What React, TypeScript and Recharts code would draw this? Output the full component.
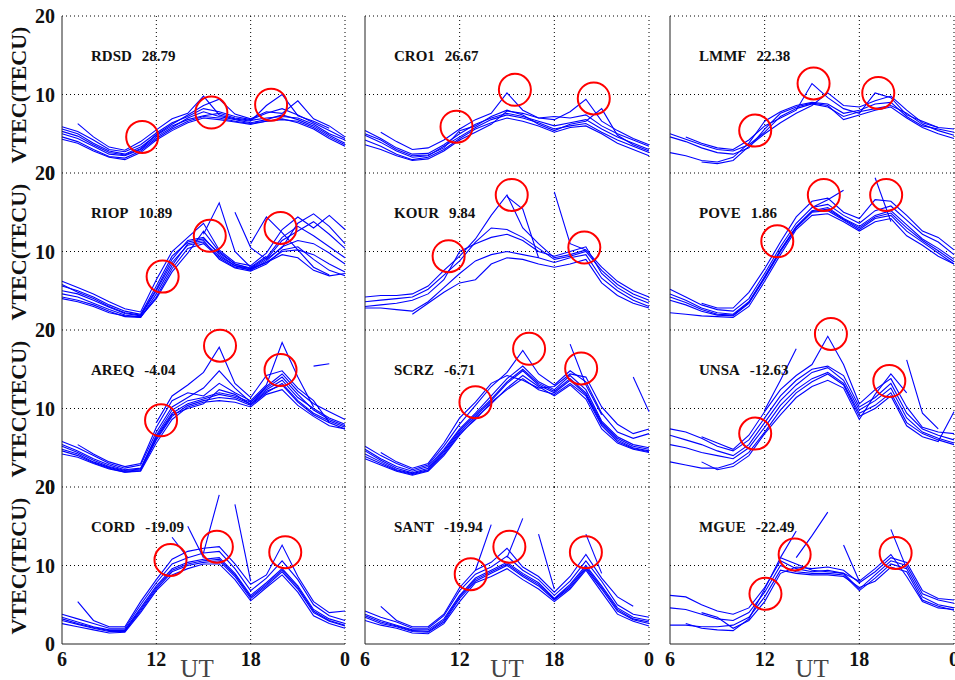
import { ComposedChart, Line, ReferenceLine, Scatter, XAxis, YAxis } from "recharts";

const _ = null;

// UT sample hours, 06 → 24 (24 shown as "0")
const UT_HOURS = [6, 7, 8, 9, 10, 11, 12, 13, 14, 15, 16, 17, 18, 19, 20, 21, 22, 23, 24];
const X_TICKS = [6, 12, 18, 24];
const Y_TICKS = [0, 10, 20];
const X_GRID = [12, 18, 24];
const Y_GRID = [10, 20];

const STATIONS = ["RDSD", "CRO1", "LMMF", "RIOP", "KOUR", "POVE", "AREQ", "SCRZ", "UNSA", "CORD", "SANT", "MGUE"];
const LATITUDES = ["28.79", "26.67", "22.38", "10.89", "9.84", "1.86", "-4.04", "-6.71", "-12.63", "-19.09", "-19.94", "-22.49"];

// one row per day, hourly VTEC (TECU)
const RDSD_TEC = [
  [5.6, 5.0, 3.8, 2.8, 2.4, 3.3, 4.8, 6.0, 6.8, 7.3, 7.6, 7.0, 6.7, 7.0, 7.2, 7.0, 6.2, 5.0, 4.2],
  [5.0, 4.4, 3.4, 2.4, 2.2, 3.0, 4.6, 5.8, 7.0, 7.8, 7.2, 6.8, 6.4, 6.8, 7.4, 6.8, 6.0, 4.8, 3.8],
  [4.6, 4.0, 3.0, 2.1, 1.9, 2.8, 4.4, 5.6, 6.6, 7.2, 7.0, 6.6, 6.3, 6.6, 6.8, 6.6, 5.8, 4.6, 3.6],
  [5.9, 5.3, 4.2, 3.0, 2.7, 3.6, 5.1, 6.4, 7.2, 8.2, 7.8, 7.2, 6.8, 7.6, 8.2, 7.4, 6.4, 5.4, 4.4],
  [4.3, 3.8, 2.8, 2.0, 1.7, 2.6, 4.2, 5.4, 6.4, 7.0, 6.8, 6.5, 6.2, 6.6, 6.9, 6.4, 5.6, 4.4, 3.4],
  [_, 6.3, 4.6, 3.3, 2.9, 4.0, 5.5, 6.9, 7.6, 9.8, 7.4, 6.9, 6.6, 8.6, 10.0, 7.3, 6.6, 5.7, _],
  [5.3, 4.7, 3.6, 2.6, 2.3, 3.1, 4.9, 6.2, 7.4, 8.6, 9.4, 7.5, 6.9, 7.8, 7.6, 9.2, 6.9, 6.0, 4.6],
];
const CRO1_TEC = [
  [5.4, 4.4, 3.2, 2.4, 2.5, 3.6, 5.0, 6.2, 7.0, 7.6, 7.2, 6.6, 6.0, 6.4, 6.8, 5.6, 4.6, 3.8, 3.0],
  [4.8, 3.9, 2.8, 2.0, 2.2, 3.4, 4.6, 5.8, 6.8, 7.4, 7.0, 6.4, 5.6, 6.0, 6.3, 5.2, 4.2, 3.4, 2.6],
  [4.2, 3.4, 2.4, 1.7, 2.0, 3.0, 4.4, 5.6, 6.4, 7.0, 6.6, 6.0, 5.2, 5.8, 6.0, 5.0, 3.8, 3.0, 2.2],
  [3.6, 3.0, 2.2, 1.6, 1.8, 2.8, 4.2, 5.2, 6.2, 7.9, 7.6, 7.0, 7.2, 7.0, 7.4, 6.0, 5.0, 4.2, 3.4],
  [_, 5.2, 4.0, 3.0, 3.2, 4.2, 5.6, 6.8, 7.6, 10.2, 8.0, 7.0, 6.8, 7.8, 9.4, 6.6, 5.4, 4.4, 3.6],
  [5.0, 4.2, 3.0, 2.2, 2.3, 3.2, 5.4, 6.0, 7.2, 8.0, 7.4, 6.2, 5.4, 6.2, 6.6, 8.2, 4.8, 3.6, 2.8],
];
const LMMF_TEC = [
  [5.0, 4.3, 3.6, 3.0, 2.8, 3.6, 5.2, 7.2, 8.2, 8.8, 8.4, 7.2, 7.8, 8.2, 8.6, 7.6, 6.2, 5.4, 4.8],
  [4.6, 4.0, 3.2, 2.6, 2.4, 3.2, 5.6, 7.6, 8.4, 8.9, 8.6, 6.8, 7.4, 8.0, 8.4, 7.0, 5.8, 5.0, 4.4],
  [2.6, 2.2, 1.6, 1.4, 2.0, 3.8, 6.6, 7.8, 8.6, 9.0, 8.8, 7.6, 8.0, 8.8, 9.0, 7.2, 6.0, 5.6, 5.2],
  [_, 4.6, 3.8, 3.2, 3.0, 4.2, 6.0, 7.0, 8.0, 11.4, 9.6, 8.2, 7.6, 10.2, 9.6, 7.4, 6.6, 5.8, 5.6],
  [_, _, 1.4, 1.2, 1.6, 3.4, 5.0, 6.4, 7.6, 8.6, 10.2, 8.6, 8.4, 9.2, 9.8, 8.0, 6.4, 5.8, _],
];
const RIOP_TEC = [
  [5.6, 5.0, 4.2, 3.2, 2.4, 2.0, 5.6, 9.4, 11.2, 11.6, 9.8, 8.4, 7.8, 9.0, 11.4, 12.6, 13.8, 12.2, 10.4],
  [5.0, 4.6, 3.8, 2.9, 2.1, 1.8, 5.0, 8.6, 10.8, 11.2, 9.4, 8.2, 7.6, 8.8, 10.6, 11.4, 11.0, 9.8, 8.4],
  [4.6, 4.2, 3.4, 2.6, 1.9, 1.6, 4.6, 8.2, 11.0, 11.4, 9.0, 7.9, 7.5, 8.4, 10.2, 10.6, 9.0, 7.6, 6.9],
  [6.2, 5.4, 4.6, 3.6, 2.7, 2.3, 6.4, 10.0, 11.8, 13.6, 10.2, 8.6, 8.2, 9.8, 12.8, 14.4, 13.0, 14.6, 12.8],
  [4.2, 3.8, 3.2, 2.4, 1.7, 1.6, 4.2, 7.8, 10.4, 11.0, 9.2, 8.0, 7.7, 8.6, 9.6, 9.2, 7.6, 6.9, 7.2],
  [5.8, 4.8, 4.0, 3.0, 2.2, 1.9, 5.2, 9.0, 11.4, 11.8, 9.6, 8.2, 7.8, 8.6, 10.0, 10.2, 9.6, 8.4, 7.4],
  [4.0, 3.6, 3.0, 2.2, 1.8, 1.7, 4.0, 7.4, 9.8, 12.6, 10.0, 8.4, 7.9, 9.2, 11.8, 13.2, 12.0, 10.6, 9.2],
  [_, _, _, _, _, _, _, _, _, 12.2, 16.2, 10.0, 8.0, 9.4, _, _, _, _, _],
  [_, _, _, _, _, _, _, _, _, _, _, 15.0, 10.5, 9.0, 10.5, 13.6, 14.8, 13.2, 11.0],
  [_, _, _, _, _, _, _, _, _, _, _, _, 11.0, 14.4, 12.4, 10.2, 8.0, 7.0, _],
];
const KOUR_TEC = [
  [4.2, 4.4, 4.4, 4.6, 5.6, 7.6, 9.4, 11.6, 14.6, 17.2, 13.0, 11.0, 9.2, 9.6, 10.2, 8.0, 6.2, 5.0, 4.2],
  [3.6, 3.8, 4.0, 4.2, 5.2, 7.0, 8.8, 11.2, 13.0, 12.8, 11.8, 10.4, 9.0, 9.4, 10.0, 7.6, 5.8, 4.6, 3.8],
  [3.0, 3.2, 3.4, 3.8, 4.6, 6.4, 10.0, 11.0, 11.8, 12.2, 11.4, 10.0, 9.4, 10.0, 10.6, 7.2, 5.4, 4.2, 3.4],
  [2.8, 2.8, 2.6, 2.4, 3.6, 5.4, 7.2, 8.8, 9.6, 10.0, 9.6, 9.2, 8.6, 9.2, 9.6, 6.6, 5.0, 3.8, 3.0],
  [_, _, _, 2.0, 3.4, 4.8, 6.0, 6.4, 8.4, 9.2, 9.0, 8.4, 8.0, 8.4, 9.0, 6.0, 4.4, 3.4, 2.8],
  [_, _, _, _, _, _, _, _, _, 17.0, 15.4, 9.2, _, _, _, _, _, _, _],
  [_, _, _, _, _, _, _, _, _, _, _, _, 17.6, 11.0, 10.2, _, _, _, _],
];
const POVE_TEC = [
  [5.2, 4.2, 3.2, 2.6, 2.4, 4.0, 7.2, 10.6, 13.6, 15.6, 16.0, 14.6, 13.6, 15.2, 15.8, 14.0, 12.2, 11.2, 9.6],
  [4.6, 3.8, 2.8, 2.2, 2.0, 3.6, 6.8, 10.2, 13.2, 15.2, 15.6, 14.2, 13.2, 14.6, 15.2, 13.4, 11.6, 10.4, 9.0],
  [3.8, 3.2, 2.4, 1.9, 1.8, 3.4, 6.6, 10.0, 13.0, 15.0, 15.2, 14.0, 12.8, 14.2, 14.6, 12.6, 11.2, 9.8, 8.4],
  [_, _, 3.4, 2.8, 2.8, 4.8, 7.8, 11.2, 14.4, 16.4, 16.8, 15.0, 14.2, 16.6, 16.4, 14.6, 12.6, 11.8, 10.2],
  [2.2, 2.0, 1.8, 1.7, 1.6, 3.0, 6.2, 9.6, 12.8, 14.6, 14.8, 13.8, 12.6, 13.8, 14.2, 12.0, 10.8, 9.4, 8.4],
  [4.2, 3.5, 2.6, 2.0, 1.9, 3.5, 6.7, 10.1, 13.1, 15.1, 15.4, 14.1, 13.0, 14.4, 14.9, 13.0, 11.4, 10.1, 8.7],
  [_, _, _, _, _, _, _, _, _, 15.6, 16.6, 17.8, _, _, _, _, _, _, _],
  [_, _, _, _, _, _, _, _, _, _, _, _, _, 19.4, 13.8, _, _, _, _],
];
const AREQ_TEC = [
  [5.4, 4.6, 3.6, 2.8, 2.2, 2.4, 6.4, 9.4, 10.6, 11.2, 11.8, 11.4, 10.6, 12.4, 13.6, 11.4, 10.0, 8.8, 8.0],
  [4.8, 4.2, 3.2, 2.5, 2.0, 2.2, 6.0, 9.0, 10.4, 11.0, 11.4, 11.2, 10.4, 12.0, 13.2, 11.0, 9.4, 8.4, 7.6],
  [5.8, 5.0, 4.0, 3.0, 2.4, 2.8, 7.0, 10.2, 11.4, 12.6, 14.8, 12.6, 10.8, 12.8, 14.4, 12.2, 10.6, 9.6, 8.6],
  [4.2, 3.8, 3.0, 2.3, 1.9, 2.0, 5.6, 8.6, 10.2, 10.8, 11.0, 10.8, 10.2, 11.8, 12.4, 10.4, 9.0, 7.8, 7.4],
  [5.2, 4.4, 3.4, 2.6, 2.1, 2.3, 6.6, 9.8, 11.0, 11.4, 12.0, 11.6, 10.8, 12.6, 14.0, 11.8, 9.8, 8.6, 7.8],
  [4.6, 4.0, 3.1, 2.4, 1.9, 2.1, 6.2, 9.2, 10.0, 10.6, 12.4, 11.8, 10.5, 12.2, 13.0, 10.8, 9.2, 8.2, 7.4],
  [_, _, _, _, _, _, 8.2, 11.6, 13.0, 14.6, 17.8, 13.2, 11.4, 14.2, 14.8, 12.6, 11.0, 8.2, _],
  [_, 5.4, 4.2, 3.2, 2.6, 3.0, 7.6, 11.0, 12.0, 11.6, 13.2, 12.0, 11.0, 13.0, 18.4, 14.0, 10.2, _, _],
  [_, _, _, _, _, _, _, _, _, _, _, _, _, _, _, _, 15.4, 15.7, _],
];
const SCRZ_TEC = [
  [4.8, 3.6, 2.6, 2.0, 2.6, 4.8, 7.4, 9.4, 11.6, 13.8, 15.4, 13.4, 12.4, 14.2, 12.4, 8.4, 6.4, 5.4, 5.0],
  [4.2, 3.2, 2.2, 1.7, 2.2, 4.4, 7.0, 9.0, 11.0, 13.2, 14.8, 13.0, 12.0, 13.6, 11.8, 8.0, 6.0, 5.0, 4.6],
  [3.6, 2.8, 2.0, 1.5, 2.0, 4.0, 6.6, 8.8, 10.6, 12.6, 14.2, 12.8, 11.6, 13.0, 11.2, 7.4, 5.6, 4.8, 4.4],
  [5.2, 4.0, 3.0, 2.2, 2.8, 5.2, 8.0, 10.4, 12.8, 14.6, 17.4, 14.4, 13.0, 14.8, 13.4, 9.4, 7.0, 6.2, 6.8],
  [4.6, 3.4, 2.4, 1.8, 2.4, 4.6, 7.2, 9.2, 11.2, 13.4, 15.0, 13.2, 12.2, 13.8, 12.0, 8.2, 6.2, 5.2, 4.8],
  [3.9, 3.0, 2.1, 1.6, 2.1, 4.2, 6.8, 8.6, 10.8, 12.4, 13.8, 12.4, 11.8, 13.2, 11.6, 7.8, 5.8, 4.9, 4.5],
  [_, 4.4, 3.2, 2.4, 3.0, 5.6, 8.8, 10.8, 13.2, 14.2, 13.6, 12.6, 12.8, 14.4, 14.0, 10.2, 8.0, 6.8, 7.4],
  [_, _, _, _, _, _, _, _, _, _, _, _, _, 18.2, 13.0, 9.2, _, _, _],
  [_, _, _, _, _, _, _, _, _, _, _, _, _, _, _, _, _, 14.0, 9.6],
];
const UNSA_TEC = [
  [7.4, 7.0, 6.2, 5.2, 4.6, 6.0, 8.8, 11.6, 13.6, 15.0, 15.4, 14.2, 10.2, 11.4, 13.2, 9.4, 7.4, 6.6, 6.0],
  [6.6, 6.0, 5.4, 4.6, 4.0, 5.4, 8.2, 11.0, 13.0, 14.6, 15.2, 13.6, 9.8, 11.0, 12.6, 8.8, 7.0, 6.2, 5.6],
  [5.4, 5.0, 4.4, 4.0, 3.6, 5.0, 7.6, 10.4, 12.4, 13.8, 14.6, 13.2, 9.4, 10.4, 12.0, 8.2, 6.8, 6.0, 5.4],
  [3.2, 2.8, 2.4, 2.4, 3.0, 4.4, 7.0, 9.8, 12.0, 13.4, 14.4, 13.0, 9.0, 10.0, 11.6, 7.8, 6.4, 5.8, 9.6],
  [_, _, 6.4, 5.6, 4.8, 6.6, 9.6, 12.4, 14.2, 15.6, 19.2, 15.6, 10.6, 12.4, 13.8, 10.2, 7.6, 7.0, 6.8],
  [_, _, 3.2, 2.2, 2.6, 4.0, 6.8, 9.2, 11.4, 12.8, 13.6, 12.6, 8.6, 11.8, 14.4, 12.0, _, _, _],
  [_, _, _, _, _, _, 9.8, 13.6, 17.6, _, _, _, _, _, _, _, _, _, _],
  [_, _, _, _, _, _, _, _, _, _, _, _, _, _, _, 16.2, 9.4, 7.4, _],
];
const CORD_TEC = [
  [3.4, 2.8, 2.2, 1.8, 1.8, 4.6, 7.4, 9.6, 10.4, 10.8, 11.0, 9.0, 6.2, 7.8, 9.6, 7.4, 4.4, 3.2, 2.6],
  [3.0, 2.5, 2.0, 1.6, 1.6, 4.2, 7.0, 9.2, 10.0, 10.4, 10.6, 8.6, 5.8, 7.4, 9.2, 7.0, 4.0, 2.9, 2.3],
  [2.6, 2.2, 1.8, 1.4, 1.5, 4.0, 6.8, 8.8, 9.6, 10.2, 10.2, 8.2, 5.5, 7.2, 8.8, 6.6, 3.6, 2.6, 2.0],
  [3.8, 3.2, 2.6, 2.0, 2.0, 5.0, 7.8, 10.2, 11.0, 11.6, 11.8, 9.6, 6.8, 8.4, 10.6, 8.2, 5.0, 3.6, 3.0],
  [3.2, 2.6, 2.1, 1.7, 1.7, 4.4, 7.2, 9.4, 10.2, 10.6, 10.8, 8.8, 6.0, 7.6, 9.4, 7.2, 4.2, 3.0, 2.4],
  [_, 5.4, 3.0, 2.2, 2.2, 5.4, 8.2, 10.8, 11.8, 12.2, 12.4, 10.2, 7.6, 8.8, 12.6, 8.6, 5.4, 4.0, 4.2],
  [_, _, _, _, _, _, _, 13.6, 11.0, _, _, _, _, _, _, _, _, _, _],
  [_, _, _, _, _, _, _, _, _, 11.6, 19.0, _, _, _, _, _, _, _, _],
  [_, _, _, _, _, _, _, _, _, _, _, 17.8, 8.0, _, _, _, _, _, _],
  [_, _, _, _, _, _, _, _, 15.0, 11.0, _, _, _, _, _, _, _, _, _],
];
const SANT_TEC = [
  [3.8, 3.0, 2.4, 1.8, 1.8, 3.2, 6.2, 8.4, 9.4, 10.4, 9.0, 7.8, 5.8, 7.6, 10.0, 7.4, 4.6, 3.4, 3.0],
  [3.4, 2.6, 2.2, 1.6, 1.5, 2.8, 5.8, 8.0, 9.0, 10.0, 8.6, 7.4, 5.6, 7.2, 9.6, 7.0, 4.2, 3.1, 2.6],
  [3.0, 2.4, 2.0, 1.4, 1.3, 2.6, 5.4, 7.8, 8.6, 9.6, 8.2, 7.0, 5.4, 7.0, 9.4, 6.6, 3.8, 2.9, 2.3],
  [4.2, 3.4, 2.8, 2.0, 2.0, 3.6, 6.8, 8.9, 9.8, 11.2, 9.4, 8.2, 6.2, 8.0, 10.6, 8.0, 5.0, 3.8, 3.4],
  [3.6, 2.8, 2.3, 1.7, 1.6, 3.0, 6.0, 8.2, 9.2, 10.2, 8.8, 7.6, 5.7, 7.4, 9.8, 7.2, 4.4, 3.2, 2.8],
  [_, 4.8, 3.0, 2.2, 2.2, 3.8, 7.2, 9.4, 10.4, 12.2, 9.8, 8.6, 6.6, 8.6, 11.4, 8.4, 6.0, 4.8, _],
  [_, _, _, _, _, _, _, 9.4, 15.2, _, _, _, _, _, _, _, _, _, _],
  [_, _, _, _, _, _, _, _, _, 11.0, 16.0, _, _, _, _, _, _, _, _],
  [_, _, _, _, _, _, _, _, _, _, _, 14.0, 7.0, _, _, _, _, _, _],
  [_, _, _, _, _, _, _, _, _, _, _, _, _, _, 14.0, 9.0, _, _, _],
];
const MGUE_TEC = [
  [6.2, 6.0, 5.0, 4.2, 3.8, 4.6, 7.2, 10.6, 9.6, 9.2, 9.4, 9.0, 7.0, 8.8, 10.6, 10.0, 6.4, 5.6, 5.2],
  [4.6, 4.4, 3.8, 3.2, 3.0, 4.0, 6.6, 10.0, 9.2, 9.0, 9.0, 8.8, 6.8, 8.4, 10.2, 9.6, 6.0, 5.0, 4.6],
  [2.4, 2.4, 2.2, 2.2, 2.4, 3.4, 6.0, 9.4, 9.0, 8.8, 8.8, 8.6, 7.2, 8.0, 9.8, 9.2, 5.6, 4.8, 4.3],
  [_, _, 4.0, 3.4, 2.0, 3.0, 5.4, 9.0, 9.8, 9.6, 9.8, 9.4, 7.8, 9.2, 11.0, 10.4, 6.8, 5.8, 5.6],
  [_, 2.6, 2.0, 1.8, 1.7, 3.2, 7.0, 11.0, 10.2, 9.4, 9.2, 9.0, 8.0, 9.6, 11.4, 8.6, 5.4, 4.6, 4.4],
  [_, _, _, _, _, _, _, _, 11.0, 13.8, 16.8, _, _, _, _, _, _, _, _],
  [_, _, _, _, _, _, _, 11.0, 14.4, _, _, _, _, _, _, _, _, _, _],
  [_, _, _, _, _, _, _, _, _, _, _, 12.6, 8.0, _, _, _, _, _, _],
  [_, _, _, _, _, _, _, _, _, _, _, _, _, _, 14.6, 9.6, _, _, _],
];

// circled peaks: [UT, VTEC]
const RDSD_PEAKS = [[11.1, 4.6], [15.5, 7.7], [19.3, 8.7]];
const CRO1_PEAKS = [[11.8, 5.9], [15.5, 10.6], [20.5, 9.5]];
const LMMF_PEAKS = [[11.4, 5.4], [15.1, 11.4], [19.2, 10.2]];
const RIOP_PEAKS = [[12.4, 6.8], [15.4, 12.0], [19.9, 13.0]];
const KOUR_PEAKS = [[11.3, 9.4], [15.3, 17.2], [19.9, 10.5]];
const POVE_PEAKS = [[12.8, 11.3], [15.75, 17.2], [19.7, 17.2]];
const AREQ_PEAKS = [[12.3, 8.5], [16.05, 18.0], [19.9, 14.9]];
const SCRZ_PEAKS = [[13.0, 10.8], [16.4, 17.6], [19.7, 15.1]];
const UNSA_PEAKS = [[11.4, 6.8], [16.2, 19.5], [19.9, 13.5]];
const CORD_PEAKS = [[12.9, 10.7], [15.85, 12.4], [20.2, 11.7]];
const SANT_PEAKS = [[12.7, 8.9], [15.15, 12.4], [20.0, 11.7]];
const MGUE_PEAKS = [[12.05, 6.4], [13.9, 11.4], [20.3, 11.6]];

const TEC_SETS = [RDSD_TEC, CRO1_TEC, LMMF_TEC, RIOP_TEC, KOUR_TEC, POVE_TEC, AREQ_TEC, SCRZ_TEC, UNSA_TEC, CORD_TEC, SANT_TEC, MGUE_TEC];
const PEAK_SETS = [RDSD_PEAKS, CRO1_PEAKS, LMMF_PEAKS, RIOP_PEAKS, KOUR_PEAKS, POVE_PEAKS, AREQ_PEAKS, SCRZ_PEAKS, UNSA_PEAKS, CORD_PEAKS, SANT_PEAKS, MGUE_PEAKS];

const SERIF = '"Liberation Serif", "Times New Roman", serif';
const COL_LEFT = [62, 365, 670];
const COL_WIDTH = [283, 284, 284];
const UT_OFFSET = [135, 142, 142];
const ROW_TOP = [16, 173, 330, 487];
const PLOT_H = 157;
const PAD_L = 50;
const PAD_T = 20;
const PAD_R = 10;
const AXIS_H = 40;

function RedRing(props: any) {
  const { cx, cy } = props;
  if (cx == null || cy == null) return null;
  return <circle cx={cx} cy={cy} r={16} fill="none" stroke="#ff0000" strokeWidth={2} />;
}

function Panel({ idx }: { idx: number }) {
  const row = Math.floor(idx / 3);
  const col = idx % 3;
  const days = TEC_SETS[idx];
  const data = UT_HOURS.map((ut, i) => {
    const o: Record<string, number | null> = { ut };
    days.forEach((d, k) => {
      o["d" + k] = d[i];
    });
    return o;
  });
  const peaks = PEAK_SETS[idx].map(([ut, tec]) => ({ ut, tec }));
  const bottom = row === 3;
  const left = col === 0;
  const tickStyle = { fontSize: 20, fontWeight: 700, fill: "#111", fontFamily: SERIF };

  return (
    <div style={{ position: "absolute", left: COL_LEFT[col] - PAD_L, top: ROW_TOP[row] - PAD_T }}>
      <ComposedChart
        width={COL_WIDTH[col] + PAD_L + PAD_R}
        height={PLOT_H + PAD_T + AXIS_H}
        data={data}
        margin={{ top: PAD_T, right: PAD_R, bottom: 0, left: 0 }}
      >
        <XAxis
          type="number"
          dataKey="ut"
          domain={[6, 24]}
          ticks={X_TICKS}
          height={AXIS_H}
          axisLine={bottom ? { stroke: "#222" } : false}
          tickLine={false}
          tickSize={0}
          tickMargin={8}
          tick={bottom ? tickStyle : false}
          tickFormatter={(v) => (v === 24 ? "0" : String(v))}
        />
        <YAxis
          type="number"
          domain={[0, 20]}
          ticks={Y_TICKS}
          width={PAD_L}
          axisLine={{ stroke: "#222" }}
          tickLine={false}
          tickSize={0}
          tickMargin={7}
          tick={left ? tickStyle : false}
        />
        {X_GRID.map((x) => (
          <ReferenceLine key={"x" + x} x={x} stroke="#000" strokeDasharray="1 3" />
        ))}
        {Y_GRID.map((y) => (
          <ReferenceLine key={"y" + y} y={y} stroke="#000" strokeDasharray="1 3" />
        ))}
        {days.map((_d, k) => (
          <Line
            key={k}
            dataKey={"d" + k}
            stroke="#0000ff"
            strokeWidth={1.1}
            dot={false}
            activeDot={false}
            connectNulls={false}
            isAnimationActive={false}
          />
        ))}
        <Scatter data={peaks} dataKey="tec" shape={RedRing} isAnimationActive={false} />
      </ComposedChart>
    </div>
  );
}

export default function App() {
  return (
    <div
      style={{
        position: "absolute",
        left: 0,
        top: 0,
        width: 955,
        height: 680,
        background: "#fff",
        overflow: "hidden",
        fontFamily: SERIF,
      }}
    >
      {STATIONS.map((_s, i) => (
        <Panel key={i} idx={i} />
      ))}

      {STATIONS.map((s, i) => (
        <div
          key={s}
          style={{
            position: "absolute",
            left: COL_LEFT[i % 3] + 29,
            top: ROW_TOP[Math.floor(i / 3)] + 31,
            fontSize: 15,
            lineHeight: "18px",
            fontWeight: 700,
            color: "#111",
            whiteSpace: "nowrap",
          }}
        >
          {s}
          <span style={{ marginLeft: 10 }}>{LATITUDES[i]}</span>
        </div>
      ))}

      {ROW_TOP.map((t) => (
        <div
          key={t}
          style={{
            position: "absolute",
            left: 18.5 - 80,
            top: t + PLOT_H / 2 - 14,
            width: 160,
            height: 28,
            lineHeight: "28px",
            textAlign: "center",
            fontSize: 22,
            fontWeight: 700,
            color: "#111",
            transform: "rotate(-90deg)",
            whiteSpace: "nowrap",
          }}
        >
          VTEC(TECU)
        </div>
      ))}

      {COL_LEFT.map((l, c) => (
        <div
          key={l}
          style={{
            position: "absolute",
            left: l + UT_OFFSET[c] - 30,
            top: 657,
            width: 60,
            textAlign: "center",
            fontSize: 25,
            lineHeight: "23px",
            color: "#444",
          }}
        >
          UT
        </div>
      ))}
    </div>
  );
}
